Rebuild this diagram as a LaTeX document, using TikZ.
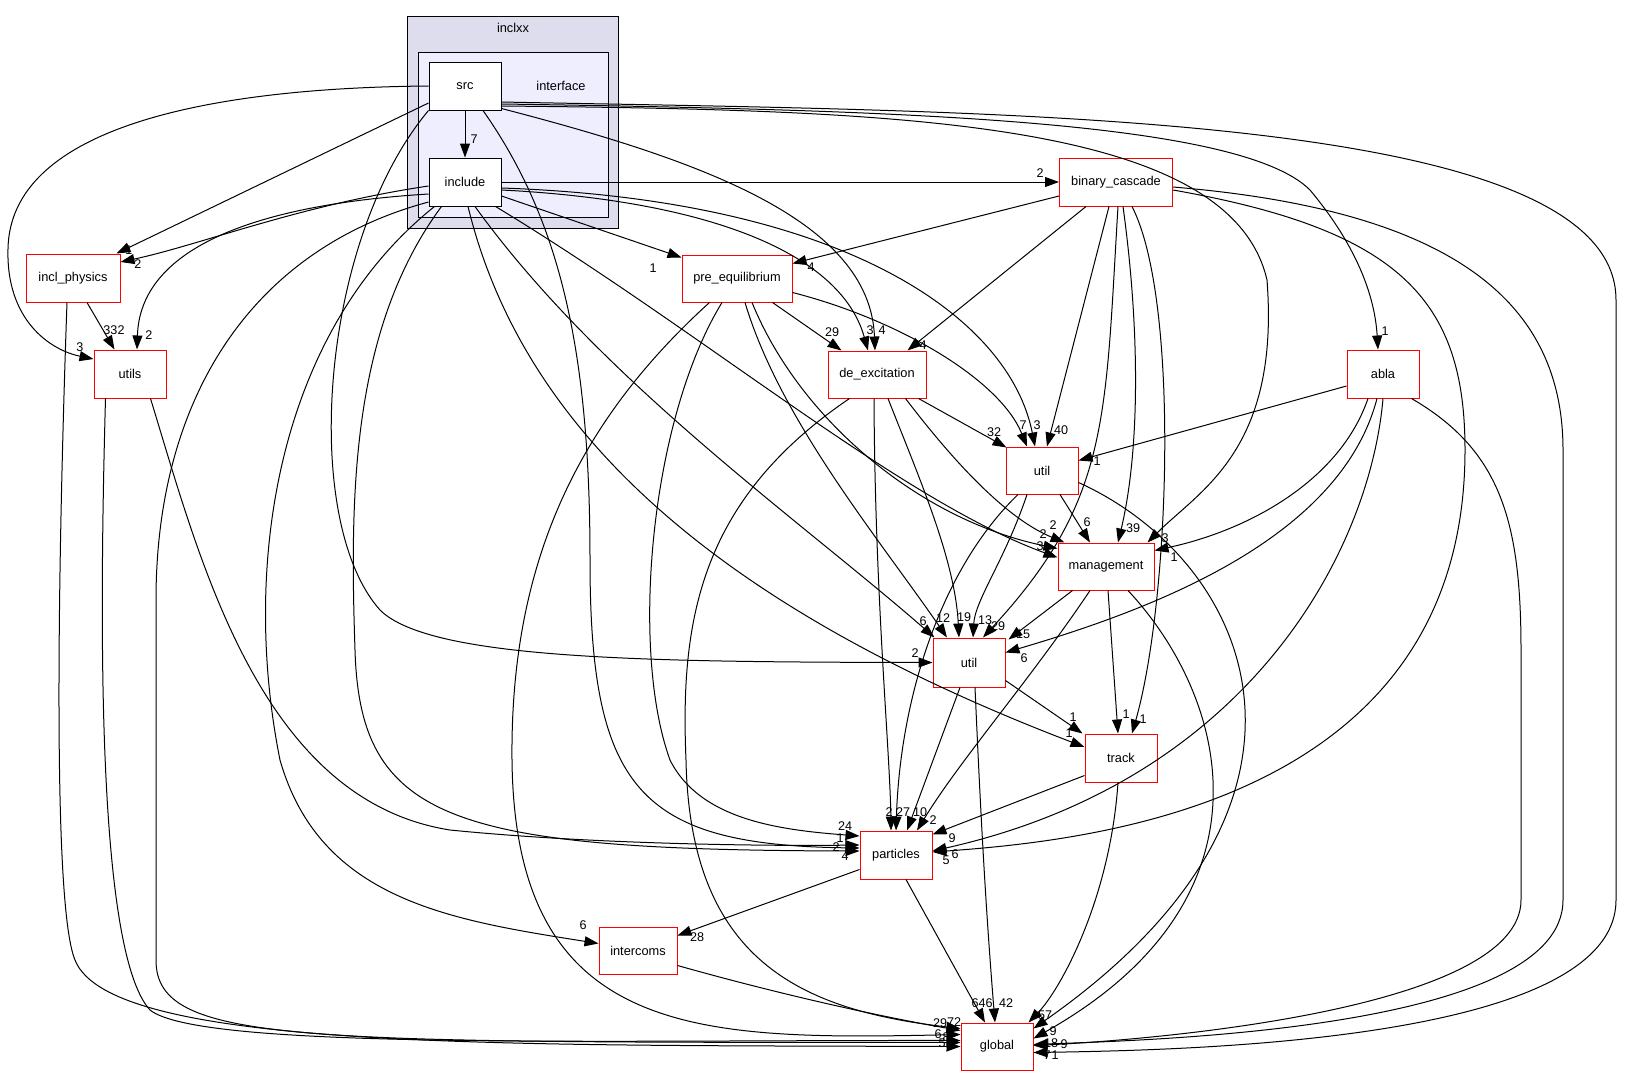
\documentclass[tikz,border=0pt]{standalone}
\usepackage{fontspec}
\setmainfont{Liberation Sans}
\usetikzlibrary{arrows.meta,calc}

\definecolor{clusterouter}{HTML}{DDDDEE}
\definecolor{clusterinner}{HTML}{EEEEFF}

\tikzset{
  dirbox/.style={draw=red, fill=white, line width=0.5pt, inner sep=0pt,
    minimum width=36pt, minimum height=24pt, font=\fontsize{6.4}{7}\selectfont},
  subdirbox/.style={dirbox, draw=black},
  dep/.style={line width=0.5pt, -{Triangle[length=7pt,width=5pt]}},
  lbl/.style={inner sep=0pt, font=\fontsize{6.3}{7}\selectfont},
}

\begin{document}
\begin{tikzpicture}[x=0.5pt,y=-0.5pt]
    \fill[white] (0,0) rectangle (1628,1076);
    \useasboundingbox (0,0) rectangle (1628,1076);

    % Draw the clusters inclxx and interface
    \filldraw[fill=clusterouter, draw=black, line width=0.5pt] (407,16) rectangle (618,228);
    \filldraw[fill=clusterinner, draw=black, line width=0.5pt] (418,52) rectangle (608,217);
    \node[font=\fontsize{6.4}{7}\selectfont] (inclxxlbl) at (513,28) {inclxx};
    \node[font=\fontsize{6.4}{7}\selectfont] (interfacelbl) at (561,86) {interface};

    % Draw the directories
    \node[subdirbox] (src) at (465,86) {src};
    \node[subdirbox] (include) at (465,182) {include};
    \node[dirbox, minimum width=56.5pt] (binarycascade) at (1116,182) {binary\_cascade};
    \node[dirbox, minimum width=47pt] (inclphysics) at (73,278) {incl\_physics};
    \node[dirbox, minimum width=55pt, minimum height=23.5pt] (preequilibrium) at (737,278.5) {pre\_equilibrium};
    \node[dirbox] (utils) at (130,374) {utils};
    \node[dirbox, minimum width=49pt, minimum height=23.5pt] (deexcitation) at (877,374.5) {de\_excitation};
    \node[dirbox] (abla) at (1383,374) {abla};
    \node[dirbox, minimum height=23.5pt] (utilA) at (1042,470.5) {util};
    \node[dirbox, minimum width=48pt, minimum height=23.5pt] (management) at (1106,566.5) {management};
    \node[dirbox, minimum height=24.5pt] (utilB) at (969,662.5) {util};
    \node[dirbox] (track) at (1121,758) {track};
    \node[dirbox] (particles) at (896,855) {particles};
    \node[dirbox, minimum width=39pt, minimum height=23.5pt] (intercoms) at (638,950.5) {intercoms};
    \node[dirbox, minimum height=23.5pt] (global) at (997,1046.5) {global};

    % Draw the dependencies of src
    \draw[dep] (src) -- (include) node[lbl] at (474,139) {7};
    \draw[dep] ($(src.west)+(0,17)$) -- ($(inclphysics.north east)+(-4,0)$) node[lbl] at (129,250) {1};
    \draw[dep] (src.west) .. controls (200,88) and (10,130) .. (8,249) .. controls (6,320) and (50,350) .. ($(utils.west)+(0,-15)$) node[lbl] at (80,347) {3};
    \draw[dep] (src.south west) .. controls (320,240) and (300,520) .. (380,610) .. controls (430,660) and (650,662) .. (utilB.west) node[lbl] at (915,653) {2};
    \draw[dep] ($(src.south)+(18,0)$) .. controls (560,220) and (590,350) .. (590,560) .. controls (590,790) and (640,845) .. ($(particles.west)+(0,-7)$) node[lbl] at (836,847) {2};
    \draw[dep] ($(src.south east)+(0,-2)$) .. controls (700,160) and (870,220) .. ($(deexcitation.north)+(-2,0)$) node[lbl] at (882,330) {4};
    \draw[dep] ($(src.east)+(0,20)$) .. controls (900,110) and (1230,120) .. (1267,280) .. controls (1280,450) and (1200,490) .. ($(management.north east)+(-7,0)$) node[lbl] at (1165,538) {3};
    \draw[dep] ($(src.east)+(0,18)$) .. controls (900,110) and (1240,120) .. (1310,190) .. controls (1360,250) and (1375,300) .. ($(abla.north)+(-5,0)$) node[lbl] at (1385,331) {1};
    \draw[dep] ($(src.east)+(0,16)$) .. controls (1000,112) and (1616,110) .. (1616,300) -- (1616,900) .. controls (1616,1040) and (1200,1050) .. ($(global.east)+(0,6)$) node[lbl] at (1055,1055) {1};

    % Draw the dependencies of include
    \draw[dep] (include) -- (binarycascade) node[lbl] at (1040,173) {2};
    \draw[dep] ($(include.west)+(0,4)$) .. controls (300,205) and (200,245) .. ($(inclphysics.east)+(0,-16)$) node[lbl] at (138,264) {2};
    \draw[dep] ($(include.west)+(0,12)$) .. controls (250,205) and (140,250) .. ($(utils.north)+(7,0)$) node[lbl] at (149,335) {2};
    \draw[dep] ($(include.east)+(0,14)$) -- ($(preequilibrium.north west)+(0,3)$) node[lbl] at (653,268) {1};
    \draw[dep] ($(include.east)+(0,8)$) .. controls (700,200) and (840,250) .. ($(deexcitation.north)+(-9,0)$) node[lbl] at (870,330) {3};
    \draw[dep] ($(include.east)+(0,6)$) .. controls (850,200) and (1010,320) .. ($(utilA.north)+(-7,0)$) node[lbl] at (1037,425) {3};
    \draw[dep] ($(include.south east)+(-6,0)$) .. controls (700,330) and (900,500) .. ($(management.west)+(0,-9)$) node[lbl] at (1040,546) {3};
    \draw[dep] ($(include.south)+(10,0)$) .. controls (600,380) and (800,520) .. ($(utilB.north west)+(2,0)$) node[lbl] at (923,621) {6};
    \draw[dep] ($(include.south)+(3,0)$) .. controls (520,420) and (700,600) .. ($(track.west)+(0,-11)$) node[lbl] at (1069,733) {1};
    \draw[dep] ($(include.south west)+(13,0)$) .. controls (350,330) and (350,500) .. (355,650) .. controls (360,820) and (450,850) .. ($(particles.west)+(0,-4)$) node[lbl] at (845,856) {4};
    \draw[dep] ($(include.south west)+(6,0)$) .. controls (280,330) and (240,560) .. (280,760) .. controls (320,900) and (450,920) .. ($(intercoms.west)+(0,-7)$) node[lbl] at (583,925) {6};
    \draw[dep] ($(include.west)+(0,20)$) .. controls (250,250) and (156,400) .. (156,600) -- (156,960) .. controls (156,1045) and (300,1042) .. ($(global.west)+(0,-4)$) node[lbl] at (946,1037) {8};

    % Draw the dependencies of binary_cascade
    \draw[dep] ($(binarycascade.west)+(0,14)$) -- ($(preequilibrium.east)+(0,-15)$) node[lbl] at (811,267) {4};
    \draw[dep] ($(binarycascade.south west)+(27,0)$) -- ($(deexcitation.north east)+(-19,0)$) node[lbl] at (923,345) {4};
    \draw[dep] ($(binarycascade.south)+(-7,0)$) -- ($(utilA.north)+(5,0)$) node[lbl] at (1061,430) {40};
    \draw[dep] ($(binarycascade.south)+(7,0)$) .. controls (1140,330) and (1140,450) .. ($(management.north)+(12,0)$) node[lbl] at (1133,528) {39};
    \draw[dep] ($(binarycascade.south)+(2,0)$) .. controls (1105,420) and (1110,500) .. ($(utilB.north)+(14,0)$) node[lbl] at (998,626) {29};
    \draw[dep] ($(binarycascade.south)+(16,0)$) .. controls (1180,300) and (1170,600) .. ($(track.north)+(11,0)$) node[lbl] at (1143,719) {1};
    \draw[dep] ($(binarycascade.east)+(0,8)$) .. controls (1400,230) and (1465,300) .. (1465,450) .. controls (1465,800) and (1100,840) .. ($(particles.east)+(0,-3)$) node[lbl] at (955,854) {6};
    \draw[dep] ($(binarycascade.east)+(0,5)$) .. controls (1450,210) and (1563,300) .. (1563,450) -- (1563,900) .. controls (1563,1030) and (1150,1040) .. ($(global.east)+(0,-2)$) node[lbl] at (1064,1044) {9};

    % Draw the dependencies of pre_equilibrium
    \draw[dep] ($(preequilibrium.south east)+(-20,0)$) -- ($(deexcitation.north west)+(14,0)$) node[lbl] at (832,332) {29};
    \draw[dep] ($(preequilibrium.east)+(0,14)$) .. controls (900,320) and (1000,380) .. ($(utilA.north)+(-15,0)$) node[lbl] at (1023,425) {7};
    \draw[dep] ($(preequilibrium.south)+(15,0)$) .. controls (800,420) and (920,520) .. ($(management.west)+(0,-18)$) node[lbl] at (1043,534) {2};
    \draw[dep] ($(preequilibrium.south)+(8,0)$) .. controls (780,420) and (880,540) .. ($(utilB.north)+(-22,0)$) node[lbl] at (943,618) {12};
    \draw[dep] ($(preequilibrium.south)+(-15,0)$) .. controls (650,420) and (630,650) .. (670,760) .. controls (700,820) and (780,830) .. ($(particles.west)+(0,-19)$) node[lbl] at (845,826) {24};
    \draw[dep] ($(preequilibrium.south west)+(28,0)$) .. controls (580,420) and (510,560) .. (512,760) .. controls (515,1040) and (700,1040) .. ($(global.west)+(0,-12)$) node[lbl] at (938,1034) {6};

    % Draw the dependencies of de_excitation
    \draw[dep] ($(deexcitation.south east)+(-8,0)$) -- ($(utilA.north west)+(1,1)$) node[lbl] at (994,432) {32};
    \draw[dep] ($(deexcitation.south east)+(-21,0)$) .. controls (960,470) and (1010,520) .. ($(management.north west)+(7,0)$) node[lbl] at (1053,525) {2};
    \draw[dep] ($(deexcitation.south)+(11,0)$) .. controls (920,480) and (955,560) .. ($(utilB.north)+(-10,0)$) node[lbl] at (964,617) {19};
    \draw[dep] ($(deexcitation.south)+(-3,0)$) .. controls (875,600) and (890,750) .. ($(particles.north)+(-5,0)$) node[lbl] at (889,812) {2};
    \draw[dep] ($(deexcitation.south west)+(22,0)$) .. controls (700,500) and (680,620) .. (686,760) .. controls (690,960) and (800,1010) .. ($(global.west)+(0,-18)$) node[lbl] at (940,1023) {29};

    % Draw the dependencies of utils and incl_physics
    \draw[dep] ($(utils.south east)+(-16,0)$) .. controls (200,560) and (260,800) .. (450,830) .. controls (600,845) and (780,846) .. ($(particles.west)+(0,-10)$) node[lbl] at (840,838) {1};
    \draw[dep] ($(utils.south west)+(12,0)$) .. controls (100,600) and (95,950) .. (150,1010) .. controls (200,1050) and (600,1040) .. ($(global.west)+(0,-6)$) node[lbl] at (942,1043) {5};
    \draw[dep] ($(inclphysics.south)+(14,0)$) -- ($(utils.north west)+(21,0)$) node[lbl] at (114,330) {332};
    \draw[dep] ($(inclphysics.south)+(-6,0)$) .. controls (60,500) and (50,900) .. (75,960) .. controls (110,1050) and (500,1045) .. (global.west) node[lbl] at (950,1041) {1};

    % Draw the dependencies of abla
    \draw[dep] ($(abla.west)+(0,12)$) -- ($(utilA.east)+(0,-10)$) node[lbl] at (1097,461) {1};
    \draw[dep] ($(abla.south)+(-15,0)$) .. controls (1340,480) and (1250,530) .. ($(management.east)+(0,-16)$) node[lbl] at (1174,557) {1};
    \draw[dep] ($(abla.south)+(-6,0)$) .. controls (1340,540) and (1150,610) .. ($(utilB.east)+(0,-10)$) node[lbl] at (1024,658) {6};
    \draw[dep] (abla.south) .. controls (1370,550) and (1250,780) .. ($(particles.east)+(0,-4)$) node[lbl] at (946,860) {5};
    \draw[dep] ($(abla.south east)+(-8,0)$) .. controls (1500,450) and (1521,520) .. (1521,650) -- (1521,900) .. controls (1521,1010) and (1150,1040) .. ($(global.east)+(0,-1)$) node[lbl] at (1047,1055) {7};

    % Draw the dependencies of the upper util
    \draw[dep] ($(utilA.south)+(18,0)$) -- ($(management.north)+(-16,0)$) node[lbl] at (1087,522) {6};
    \draw[dep] ($(utilA.south)+(-15,0)$) .. controls (1005,560) and (975,600) .. ($(utilB.north)+(4,0)$) node[lbl] at (985,620) {13};
    \draw[dep] ($(utilA.south)+(-24,0)$) .. controls (940,570) and (900,700) .. (particles.north) node[lbl] at (903,812) {27};
    \draw[dep] ($(utilA.east)+(0,12)$) .. controls (1250,560) and (1360,800) .. ($(global.north east)+(0,6)$) node[lbl] at (1053,1031) {9};

    % Draw the dependencies of management
    \draw[dep] ($(management.south west)+(15,0)$) -- ($(utilB.north east)+(3,2)$) node[lbl] at (1023,634) {15};
    \draw[dep] ($(management.south)+(-16,0)$) .. controls (1030,680) and (960,760) .. ($(particles.north)+(21,0)$) node[lbl] at (933,820) {2};
    \draw[dep] ($(management.south)+(2,0)$) -- ($(track.north)+(-3,0)$) node[lbl] at (1126,714) {1};
    \draw[dep] ($(management.south)+(22,0)$) .. controls (1230,700) and (1280,900) .. ($(global.east)+(0,-8)$) node[lbl] at (1051,1043) {18};

    % Draw the dependencies of the lower util, track, particles and intercoms
    \draw[dep] ($(utilB.south east)+(0,-7)$) -- ($(track.north west)+(-2,0)$) node[lbl] at (1073,717) {1};
    \draw[dep] ($(utilB.south)+(-9,0)$) -- ($(particles.north)+(11,0)$) node[lbl] at (920,812) {10};
    \draw[dep] ($(utilB.south)+(6,0)$) .. controls (980,800) and (985,900) .. ($(global.north)+(-2,0)$) node[lbl] at (1006,1003) {42};
    \draw[dep] ($(track.south west)+(0,-7)$) -- ($(particles.north east)+(0,4)$) node[lbl] at (952,838) {9};
    \draw[dep] ($(track.south)+(-3,0)$) .. controls (1110,900) and (1060,990) .. ($(global.north east)+(-5,0)$) node[lbl] at (1045,1015) {57};
    \draw[dep] ($(particles.south west)+(0,-10)$) -- ($(intercoms.east)+(0,-15)$) node[lbl] at (697,937) {28};
    \draw[dep] ($(particles.south)+(10,0)$) -- ($(global.north)+(-12,0)$) node[lbl] at (982,1003) {646};
    \draw[dep] ($(intercoms.south east)+(0,-9)$) .. controls (800,1000) and (900,1020) .. ($(global.west)+(0,-16)$) node[lbl] at (954,1022) {72};
\end{tikzpicture}
\end{document}
